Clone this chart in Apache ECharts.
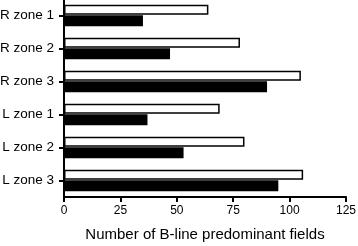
<!DOCTYPE html>
<html>
<head>
<meta charset="utf-8">
<script src="https://cdn.jsdelivr.net/npm/echarts@6/dist/echarts.min.js"></script>
<style>
  html, body { margin: 0; padding: 0; background: #fff; }
  #chart { width: 358px; height: 246px; }
</style>
</head>
<body>
<div id="chart"></div>
<script>
var zones = ['R zone 1', 'R zone 2', 'R zone 3', 'L zone 1', 'L zone 2', 'L zone 3'];
var whiteVals = [64, 78, 105, 69, 80, 106];
var blackVals = [35, 47, 90, 37, 53, 95];
var xTicks = [0, 25, 50, 75, 100, 125];

var chart = echarts.init(document.getElementById('chart'));
var font = 'Liberation Sans, Arial, Helvetica, sans-serif';

var option = {
  animation: false,
  grid: { left: 64, right: 12, top: -1, bottom: 49, outerBoundsMode: 'none' },
  xAxis: {
    type: 'value',
    min: 0,
    max: 125,
    interval: 25,
    name: 'Number of B-line predominant fields',
    nameLocation: 'middle',
    nameGap: 30,
    nameTextStyle: { color: '#000', fontSize: 15, fontFamily: font },
    axisLine: { show: true, lineStyle: { color: '#000', width: 2 } },
    axisTick: { show: true, length: 5, lineStyle: { color: '#000', width: 2 } },
    axisLabel: { color: '#000', fontSize: 12, fontFamily: font, margin: 8,
      formatter: function (v) { return xTicks.indexOf(v) >= 0 ? String(v) : ''; } },
    splitLine: { show: false }
  },
  yAxis: {
    type: 'category',
    data: zones,
    inverse: true,
    axisLine: { show: true, lineStyle: { color: '#000', width: 2 } },
    axisTick: { show: true, alignWithLabel: true, length: 5, lineStyle: { color: '#000', width: 2 } },
    axisLabel: { color: '#000', fontSize: 13.5, fontFamily: font, margin: 10 }
  },
  series: [
    {
      type: 'bar',
      data: whiteVals,
      barWidth: 10,
      barGap: '5%',
      itemStyle: { color: '#fff', borderColor: '#000', borderWidth: 1.5 }
    },
    {
      type: 'bar',
      data: blackVals,
      barWidth: 11,
      itemStyle: { color: '#000' }
    }
  ]
};
chart.setOption(option);
</script>
</body>
</html>
